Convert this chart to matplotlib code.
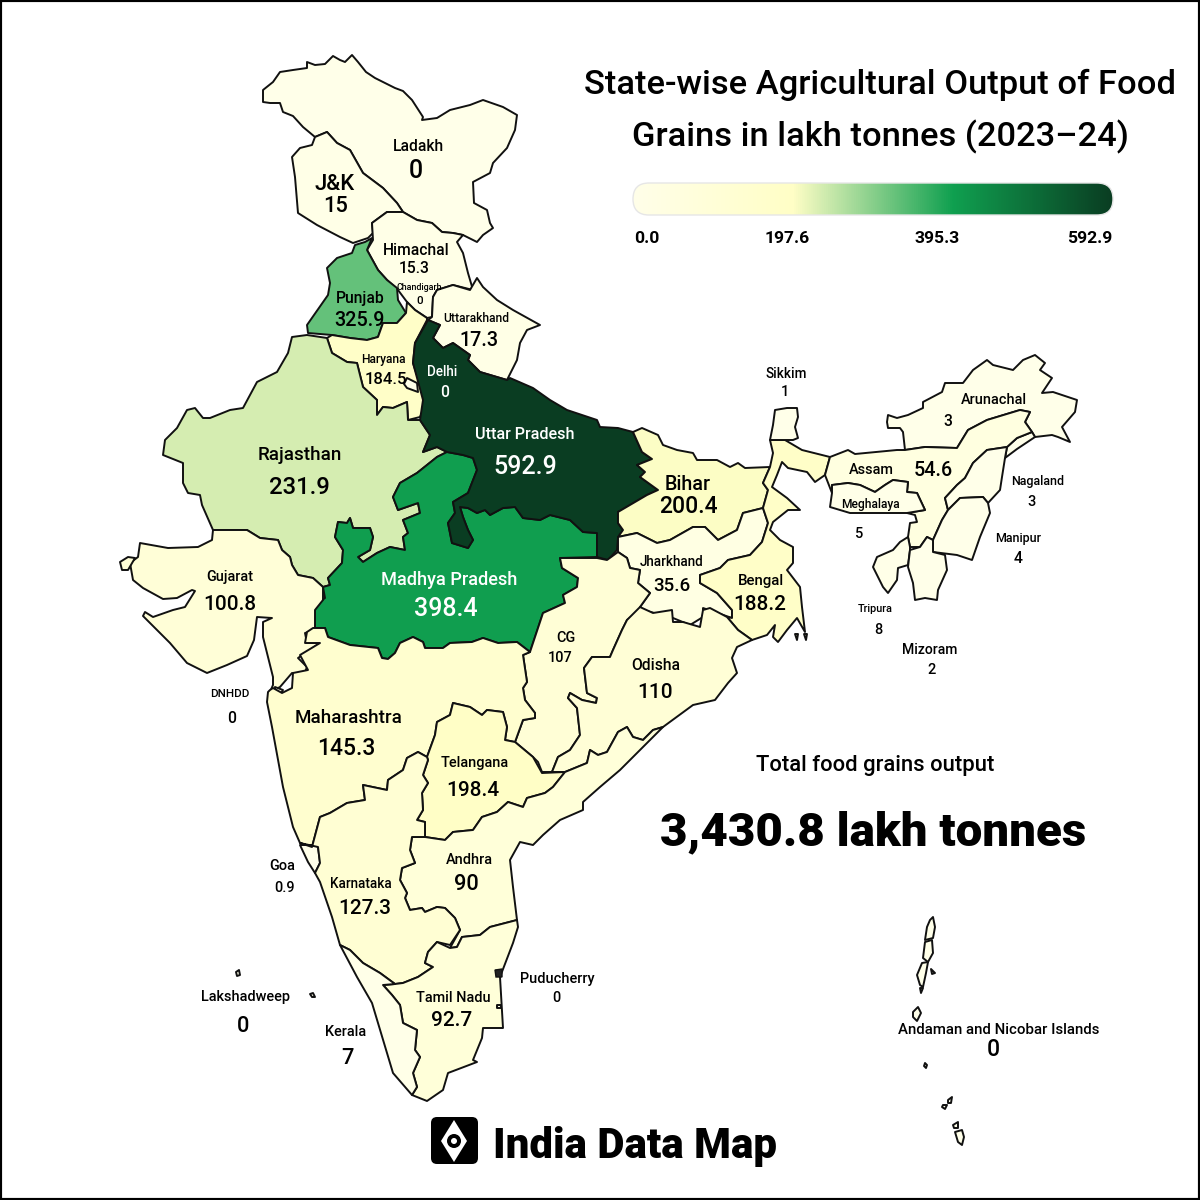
import numpy as np
import matplotlib
matplotlib.use("Agg")
import matplotlib.pyplot as plt
from matplotlib.colors import LinearSegmentedColormap, Normalize
from matplotlib.patches import Polygon, FancyBboxPatch, Circle

FONT = "Roboto"
HEAVY = "Roboto"
LABEL_SCALE = 1.04

# ---------- data ----------
state_names = ["Ladakh","J&K","Himachal","Chandigarh","Punjab","Uttarakhand","Haryana","Delhi","Rajasthan",
 "Uttar Pradesh","Madhya Pradesh","Bihar","Jharkhand","Bengal","CG","Odisha","Gujarat","DNHDD","Maharashtra",
 "Telangana","Andhra","Goa","Karnataka","Tamil Nadu","Puducherry","Lakshadweep","Kerala","Sikkim","Arunachal",
 "Assam","Meghalaya","Nagaland","Manipur","Tripura","Mizoram","Andaman and Nicobar Islands"]
state_values = [0,15,15.3,0,325.9,17.3,184.5,0,231.9,592.9,398.4,200.4,35.6,188.2,107,110,100.8,0,145.3,198.4,90,
 0.9,127.3,92.7,0,0,7,1,3,54.6,5,3,4,8,2,0]
value_text = ["0","15","15.3","0","325.9","17.3","184.5","0","231.9","592.9","398.4","200.4","35.6","188.2","107",
 "110","100.8","0","145.3","198.4","90","0.9","127.3","92.7","0","0","7","1","3","54.6","5","3","4","8","2","0"]
legend_ticks = [0.0,197.6,395.3,592.9]
color_stops = ["#FFFFE9","#FFFEC6","#10A050","#0A3D22"]
total_text = "3,430.8 lakh tonnes"

ladakh = [(263,90),(273,82),(280,72),(293,70),(307,68),(307,62),(315,65),(325,64),(333,56),(340,60),(345,62),(352,55),(358,62),(366,72),(375,78),(385,83),(395,88),(403,91),(412,100),(423,117),(422,120),(437,118),(450,110),(470,105),(483,100),(503,107),(517,115),(515,130),(507,148),(493,163),(490,173),(473,182),(474,203),(487,210),(490,223),(493,228),(483,235),(477,242),(463,235),(453,233),(442,232),(432,223),(417,220),(403,212),(397,203),(383,188),(363,173),(350,150),(337,143),(327,132),(315,137),(303,127),(293,116),(283,112),(280,103),(270,103),(263,102)]
jk = [(315,137),(327,132),(337,143),(350,150),(363,173),(383,188),(397,203),(403,212),(387,212),(372,223),(373,233),(368,238),(353,243),(340,237),(317,225),(298,213),(295,177),(292,157),(300,148),(312,145)]
himachal = [(372,223),(387,212),(403,212),(417,220),(432,223),(442,232),(453,233),(463,235),(457,242),(463,253),(468,273),(473,290),(453,285),(437,290),(433,297),(432,317),(427,318),(415,310),(407,302),(398,290),(387,280),(378,270),(367,250),(373,240)]
punjab = [(372,238),(365,242),(355,245),(352,253),(337,258),(327,268),(330,283),(328,295),(307,325),(308,333),(332,335),(350,338),(367,340),(378,337),(383,323),(397,323),(406,313),(398,300),(397,288),(387,280),(378,270),(367,250)]
uttarakhand = [(432,317),(433,297),(437,290),(453,285),(470,290),(477,278),(483,287),(497,300),(513,310),(540,325),(527,330),(520,343),(517,360),(507,380),(480,372),(468,360),(470,355),(453,343),(443,348),(433,338),(440,325),(428,320)]
haryana = [(327,338),(332,353),(347,362),(357,363),(363,387),(377,400),(377,415),(383,407),(393,408),(407,402),(408,420),(420,417),(423,410),(425,400),(413,363),(415,343),(427,320),(427,318),(415,310),(407,302),(406,313),(397,323),(383,323),(378,337),(367,340),(350,338),(332,335)]
delhi = [(407,378),(417,383),(418,392),(407,388),(404,384)]
rajasthan = [(307,335),(292,337),(288,353),(277,372),(257,382),(243,408),(230,410),(210,418),(203,418),(195,408),(187,410),(177,428),(165,440),(163,455),(183,463),(183,483),(188,493),(200,495),(202,505),(213,530),(247,530),(260,538),(278,540),(282,550),(290,557),(292,565),(298,575),(313,578),(323,587),(330,585),(328,578),(342,563),(343,550),(335,537),(338,522),(347,523),(350,518),(353,528),(370,528),(373,537),(370,550),(358,557),(363,562),(377,553),(390,547),(405,550),(403,537),(408,533),(403,520),(420,513),(418,503),(398,510),(393,497),(400,483),(417,473),(437,457),(447,452),(437,447),(423,452),(430,435),(420,420),(408,420),(407,402),(393,408),(383,407),(377,415),(377,400),(363,387),(357,363),(347,362),(332,353),(327,338)]
up = [(428,320),(440,325),(433,338),(443,348),(453,343),(470,355),(468,360),(480,372),(507,380),(510,378),(533,388),(550,400),(567,410),(582,415),(597,420),(600,427),(618,428),(633,432),(642,452),(652,459),(637,465),(645,472),(640,477),(658,490),(647,495),(618,512),(618,523),(623,530),(618,538),(617,550),(608,560),(597,557),(597,533),(583,532),(570,520),(550,515),(540,520),(523,518),(515,507),(503,508),(490,515),(485,510),(477,513),(468,508),(460,507),(463,517),(468,530),(473,540),(468,548),(452,543),(448,523),(455,513),(453,502),(468,493),(477,470),(473,458),(463,455),(447,452),(437,447),(423,452),(430,435),(420,420),(423,400),(413,363),(415,343)]
mp = [(447,452),(463,455),(473,458),(477,470),(468,493),(453,502),(455,513),(448,523),(452,543),(468,548),(473,540),(468,530),(463,517),(460,507),(468,508),(477,513),(485,510),(490,515),(503,508),(515,507),(523,518),(540,520),(550,515),(570,520),(583,532),(597,533),(597,557),(560,558),(562,568),(578,578),(577,587),(563,595),(565,603),(543,613),(540,622),(530,652),(517,642),(498,643),(483,638),(472,642),(450,643),(443,648),(425,648),(423,642),(413,637),(400,643),(395,653),(388,659),(382,658),(378,648),(350,645),(328,637),(325,628),(313,628),(313,607),(325,598),(323,587),(330,585),(328,578),(342,563),(343,550),(335,537),(338,522),(347,523),(350,518),(353,528),(370,528),(373,537),(370,550),(358,557),(363,562),(377,553),(390,547),(405,550),(403,537),(408,533),(403,520),(420,513),(418,503),(398,510),(393,497),(400,483),(417,473),(437,457)]
bihar = [(633,432),(642,428),(658,435),(663,445),(677,450),(693,453),(697,460),(717,460),(730,467),(738,463),(745,468),(770,467),(763,483),(768,490),(763,508),(743,513),(737,530),(718,540),(705,527),(693,527),(670,540),(657,543),(637,533),(618,537),(623,530),(618,523),(618,512),(647,495),(658,490),(640,477),(645,472),(637,465),(652,459),(642,452)]
jharkhand = [(618,537),(637,533),(657,543),(670,540),(693,527),(705,527),(718,540),(737,530),(743,513),(763,508),(768,523),(762,542),(750,555),(728,560),(720,568),(700,575),(700,583),(717,593),(732,610),(732,618),(703,608),(703,617),(690,625),(673,618),(643,610),(640,607),(650,593),(638,583),(640,570),(630,568),(627,558),(618,552)]
bengal = [(770,440),(785,440),(802,450),(830,457),(825,475),(815,482),(807,472),(788,468),(782,462),(777,475),(772,487),(787,498),(800,510),(788,510),(773,522),(770,530),(780,540),(793,547),(793,563),(787,570),(800,587),(802,607),(805,632),(797,618),(787,630),(778,642),(773,637),(775,625),(767,635),(752,640),(738,630),(727,617),(732,618),(732,610),(717,593),(700,583),(700,575),(720,568),(728,560),(750,555),(762,542),(768,523),(763,508),(768,490),(763,483),(770,467),(773,453)]
sikkim = [(775,410),(787,408),(797,408),(798,417),(795,427),(798,438),(793,440),(785,440),(770,440),(773,425)]
cg = [(560,558),(597,558),(607,560),(618,552),(627,558),(630,568),(640,570),(638,583),(650,593),(640,607),(640,610),(627,620),(622,630),(613,650),(610,657),(592,657),(584,668),(587,693),(597,698),(596,703),(582,700),(570,693),(568,698),(577,708),(580,735),(570,750),(558,757),(552,772),(542,772),(538,762),(533,757),(515,742),(523,720),(535,718),(535,713),(525,700),(523,688),(527,682),(523,655),(530,652),(540,622),(543,613),(565,603),(563,595),(577,587),(578,578),(562,568)]
odisha = [(640,607),(653,613),(672,610),(673,622),(683,622),(700,627),(703,610),(710,608),(727,617),(738,630),(752,640),(737,647),(732,658),(737,673),(728,683),(715,700),(693,705),(663,727),(653,730),(643,740),(633,737),(627,727),(618,732),(607,752),(598,755),(590,750),(587,763),(565,772),(552,772),(558,757),(570,750),(580,735),(577,708),(568,698),(570,693),(582,700),(596,703),(597,698),(587,693),(584,668),(592,657),(610,657),(613,650),(622,630),(627,620)]
gujarat = [(140,543),(138,557),(130,563),(133,580),(143,588),(163,599),(177,598),(192,590),(195,591),(185,607),(173,610),(153,617),(145,612),(143,616),(157,630),(170,643),(187,663),(207,673),(227,665),(247,656),(254,640),(257,617),(272,618),(263,622),(263,637),(267,653),(273,677),(273,685),(270,692),(280,687),(292,673),(303,677),(307,667),(298,658),(320,643),(307,643),(305,633),(315,630),(315,610),(323,600),(323,587),(313,578),(298,575),(292,565),(290,557),(282,550),(278,540),(260,538),(247,530),(213,530),(212,540),(198,547),(168,548)]
maharashtra = [(270,690),(268,692),(267,702),(272,727),(283,787),(293,827),(300,843),(312,847),(320,817),(330,813),(347,803),(365,800),(363,785),(387,790),(388,780),(403,770),(407,758),(418,752),(427,757),(435,735),(437,722),(450,715),(453,703),(470,707),(482,715),(487,710),(503,712),(507,727),(505,740),(515,742),(523,720),(535,718),(535,713),(525,700),(523,688),(527,682),(523,655),(530,652),(517,642),(498,643),(483,638),(472,642),(450,643),(443,648),(425,648),(423,642),(413,637),(400,643),(395,653),(388,659),(382,658),(378,648),(350,645),(328,637),(325,628),(313,628),(307,632),(305,643),(320,643),(300,655),(308,670),(293,673),(292,688),(282,693),(273,688)]
telangana = [(427,757),(435,735),(437,722),(450,715),(453,703),(470,707),(482,715),(487,710),(503,712),(507,727),(505,740),(515,742),(533,757),(542,773),(565,772),(553,787),(545,793),(527,798),(523,807),(508,802),(497,812),(482,817),(473,830),(453,832),(445,840),(425,837),(425,822),(417,820),(423,810),(422,793),(428,783),(423,775),(428,760)]
karnataka = [(300,843),(312,847),(320,817),(330,813),(347,803),(365,800),(363,785),(387,790),(388,780),(403,770),(407,758),(418,752),(427,757),(428,760),(423,775),(428,783),(422,793),(423,810),(417,820),(425,822),(425,837),(412,837),(410,850),(415,863),(402,868),(400,880),(407,893),(405,898),(410,910),(422,908),(425,912),(437,907),(445,908),(455,918),(460,930),(450,945),(437,942),(428,952),(425,963),(433,967),(418,977),(403,983),(395,984),(380,973),(363,963),(350,950),(340,945),(332,917),(320,882),(315,873),(320,863),(318,847)]
goa = [(300,845),(315,845),(318,847),(320,863),(315,873),(308,862)]
kerala = [(340,945),(350,950),(363,963),(380,973),(395,984),(383,985),(392,995),(400,1005),(403,1023),(417,1030),(415,1050),(420,1057),(413,1073),(417,1087),(412,1095),(393,1073),(372,1003),(357,977)]
tamil_nadu = [(395,984),(403,983),(418,977),(433,967),(425,963),(428,952),(437,942),(450,948),(457,947),(462,937),(480,935),(490,927),(517,920),(518,927),(513,943),(500,977),(503,1028),(483,1028),(482,1038),(473,1060),(477,1062),(448,1073),(443,1090),(427,1101),(412,1095),(417,1087),(413,1073),(420,1057),(415,1050),(417,1030),(403,1023),(400,1005),(392,995),(383,985)]
andhra = [(412,837),(425,837),(445,840),(453,832),(473,830),(482,817),(497,812),(508,802),(523,807),(527,798),(545,793),(553,787),(565,772),(587,763),(590,750),(598,755),(607,752),(618,732),(627,727),(633,737),(643,740),(653,730),(663,727),(620,770),(600,787),(583,802),(583,810),(560,820),(543,835),(533,845),(520,842),(510,860),(513,887),(517,920),(490,927),(480,935),(462,937),(457,947),(450,948),(460,930),(455,918),(445,908),(437,907),(425,912),(422,908),(410,910),(405,898),(407,893),(400,880),(402,868),(415,863),(410,850)]
assam = [(830,457),(848,450),(855,454),(897,450),(905,450),(925,447),(957,448),(968,430),(987,420),(1020,410),(1030,412),(1025,422),(1032,432),(1017,438),(1007,447),(987,450),(973,463),(965,478),(957,485),(945,498),(948,510),(942,520),(933,540),(927,537),(920,547),(910,547),(908,537),(910,523),(917,522),(915,515),(907,513),(925,510),(917,493),(907,492),(908,482),(893,480),(885,485),(875,492),(860,485),(848,483),(832,485),(832,493),(825,475)]
meghalaya = [(832,485),(848,483),(860,485),(875,492),(885,485),(893,480),(908,482),(907,492),(917,493),(925,510),(907,513),(887,513),(850,513),(830,507),(832,493)]
arunachal = [(887,422),(888,415),(897,418),(908,415),(923,408),(923,402),(942,392),(945,383),(963,383),(973,370),(987,360),(993,365),(1013,370),(1023,360),(1035,355),(1045,363),(1040,370),(1052,378),(1042,393),(1053,392),(1077,400),(1075,412),(1062,427),(1070,442),(1058,437),(1052,435),(1035,437),(1032,432),(1025,422),(1030,412),(1020,410),(987,420),(968,430),(957,448),(925,447),(905,450),(903,432),(900,428),(888,428)]
tirap = [(1007,447),(1017,438),(1032,432),(1035,437),(1017,449),(1005,458)]
nagaland = [(1007,447),(1005,458),(1002,477),(1000,490),(988,503),(983,497),(960,498),(948,510),(945,498),(957,485),(965,478),(973,463),(987,450)]
manipur = [(960,498),(983,497),(988,503),(990,513),(980,537),(972,560),(957,555),(933,552),(933,540),(942,520),(948,510)]
mizoram = [(910,550),(920,547),(927,537),(933,540),(933,552),(945,555),(947,570),(938,590),(937,600),(925,598),(915,600),(913,583),(908,567)]
tripura = [(908,537),(910,547),(910,550),(908,565),(898,568),(897,580),(888,593),(883,587),(873,567),(877,557),(893,550),(900,542)]
andaman_a = [(930,920),(933,917),(935,927),(933,938),(925,940),(927,927)]
andaman_b = [(925,942),(932,940),(933,953),(928,962),(923,958)]
andaman_c = [(922,963),(928,962),(926,973),(923,987),(920,985),(917,975)]
andaman_d = [(920,988),(923,988),(921,993)]
andaman_e = [(931,969),(935,973),(932,974)]
little_andaman = [(913,1012),(918,1007),(921,1013),(917,1021),(913,1017)]
car_nicobar = [(925,1063),(927,1065),(926,1068),(924,1066)]
nicobar_a = [(943,1105),(947,1105),(945,1109),(942,1107)]
nicobar_b = [(948,1100),(952,1097),(951,1103),(948,1103)]
nicobar_c = [(953,1125),(958,1122),(958,1128),(954,1128)]
great_nicobar = [(955,1132),(962,1130),(964,1137),(962,1145),(958,1142)]
lak_a = [(236,972),(239,970),(240,975),(237,976)]
lak_b = [(310,994),(313,993),(315,997),(312,997)]
daman = [(275,687),(283,690),(280,695),(275,693)]
kutch = [(120,562),(128,557),(135,558),(128,570),(122,570)]
puducherry = [(495,970),(502,969),(502,977),(496,977)]
yanam = [(497,1005),(501,1005),(501,1008),(497,1008)]
delta_a = [(795,634),(798,634),(797,640)]
delta_b = [(804,634),(807,634),(806,640)]

shapes = {"Ladakh":[ladakh],"J&K":[jk],"Himachal":[himachal],"Punjab":[punjab],"Uttarakhand":[uttarakhand],
 "Haryana":[haryana],"Delhi":[delhi],"Rajasthan":[rajasthan],"Madhya Pradesh":[mp],"Uttar Pradesh":[up],
 "Bihar":[bihar],"Jharkhand":[jharkhand],"Bengal":[bengal,delta_a,delta_b],"CG":[cg],"Odisha":[odisha],
 "Gujarat":[gujarat,kutch],"DNHDD":[daman],"Maharashtra":[maharashtra],"Telangana":[telangana],"Andhra":[andhra],
 "Goa":[goa],"Karnataka":[karnataka],"Tamil Nadu":[tamil_nadu],"Kerala":[kerala],"Sikkim":[sikkim],
 "Arunachal":[arunachal,tirap],"Assam":[assam],"Meghalaya":[meghalaya],"Nagaland":[nagaland],"Manipur":[manipur],
 "Tripura":[tripura],"Mizoram":[mizoram],"Lakshadweep":[lak_a,lak_b],"Puducherry":[yanam],
 "Andaman and Nicobar Islands":[andaman_a,andaman_b,andaman_c,andaman_d,andaman_e,little_andaman,car_nicobar,nicobar_a,nicobar_b,nicobar_c,great_nicobar]}

# label placement: name (x, y, px), value (x, y, px)
name_pos = [(418,145,15),(335,182,21),(416,249,15),(419,286,8.5),(360,297,15),(476,317,11.5),(383,358,11.5),(442,371,13),(300,453,18),
 (525,433,15.5),(449,578,17.5),(688,483,19),(672,560,13),(761,579,14.5),(566,636,14),(656,664,15),(230,576,14),(230,693,11),(349,716,18),
 (475,762,14),(469,858,14),(282,865,14),(361,882,13),(453,996,14),(557,978,14),(246,996,14),(346,1031,14),(786,372,13),(994,398,14),
 (871,468,14),(870,503,11.5),(1038,480,12),(1018,537,12),(875,608,10.5),(930,648,13.5),(999,1029,14.5)]
value_pos = [(416,169,24),(336,204,21),(414,267,15),(420,300,11),(359,318,19),(479,339,19),(386,378,16),(445,391,15),(299,485,23),
 (525,464,24),(446,607,24),(688,504,22),(672,584,18),(760,603,20),(560,657,14),(655,690,20),(230,602,20),(232,717,15),(346,746,22),
 (473,789,20),(466,882,21),(285,886,14),(365,906,20),(452,1019,20),(556,997,14),(243,1024,21),(347,1056,21),(785,390,14),(948,420,15),
 (933,468,19),(859,533,14),(1031,501,14),(1018,557,15),(878,629,14),(932,669,14),(993,1047,22)]

# ---------- drawing ----------
fig = plt.figure(figsize=(12,12), dpi=100)
ax = fig.add_axes([0,0,1,1])
ax.set_xlim(0,1200); ax.set_ylim(1200,0); ax.set_aspect("equal")
ax.set_xticks([]); ax.set_yticks([])
for s in ax.spines.values():
    s.set_linewidth(3); s.set_color("black")

cmap = LinearSegmentedColormap.from_list("grain", color_stops)
norm = Normalize(min(state_values), max(state_values))
value_of = dict(zip(state_names, state_values))

for name, polys in shapes.items():
    for p in polys:
        ax.add_patch(Polygon(p, closed=True, facecolor=cmap(norm(value_of[name])), edgecolor="#111111",
                             linewidth=1.4, joinstyle="round", zorder=2))
ax.add_patch(Polygon(puducherry, closed=True, facecolor="#222222", edgecolor="#111111", linewidth=1, zorder=3))

def txt(x, y, s, px, color="black", family=FONT, weight=500, ha="center"):
    ax.text(x, y, s, fontsize=px*0.72, color=color, family=family, weight=weight, ha=ha, va="center_baseline", zorder=5)

white_labels = {"Uttar Pradesh","Madhya Pradesh","Delhi"}
for n, vt, np_, vp in zip(state_names, value_text, name_pos, value_pos):
    c = "white" if n in white_labels else "black"
    txt(np_[0], np_[1], n, np_[2]*LABEL_SCALE, c)
    txt(vp[0], vp[1], vt, vp[2]*LABEL_SCALE, c)

# title
txt(880, 81, "State-wise Agricultural Output of Food", 34.5)
txt(880, 133, "Grains in lakh tonnes (2023–24)", 34.5)

# legend
grad = np.linspace(0,1,512).reshape(1,-1)
im = ax.imshow(grad, cmap=cmap, extent=(633,1113,215,183), aspect="auto", zorder=3)
rounded = FancyBboxPatch((649,199), 448, 0.01, boxstyle="round,pad=16", facecolor="none", edgecolor="#e6e6e6", linewidth=1, zorder=4)
ax.add_patch(rounded)
im.set_clip_path(rounded)
ax.set_xlim(0,1200); ax.set_ylim(1200,0)
tick_x = [634,787,937,1112]
tick_ha = ["left","center","center","right"]
for v,x,h in zip(legend_ticks,tick_x,tick_ha):
    txt(x,237,f"{v:.1f}",17.5,family=FONT,weight="bold",ha=h)

# total
txt(875,763,"Total food grains output",22)
txt(873,828,total_text,47.5,family=HEAVY,weight=900)

# logo
ax.add_patch(FancyBboxPatch((437,1123),35,35,boxstyle="round,pad=6",facecolor="black",edgecolor="none",zorder=4))
ax.add_patch(Polygon([(454,1120),(467,1141),(454,1162),(441,1141)],closed=True,facecolor="white",edgecolor="none",zorder=5))
ax.add_patch(Circle((454,1141),7,facecolor="black",edgecolor="none",zorder=6))
ax.add_patch(Circle((454,1141),3,facecolor="white",edgecolor="none",zorder=7))
txt(493,1142,"India Data Map",42,family=HEAVY,weight=900,ha="left")

fig.savefig("out.png", dpi=100)
